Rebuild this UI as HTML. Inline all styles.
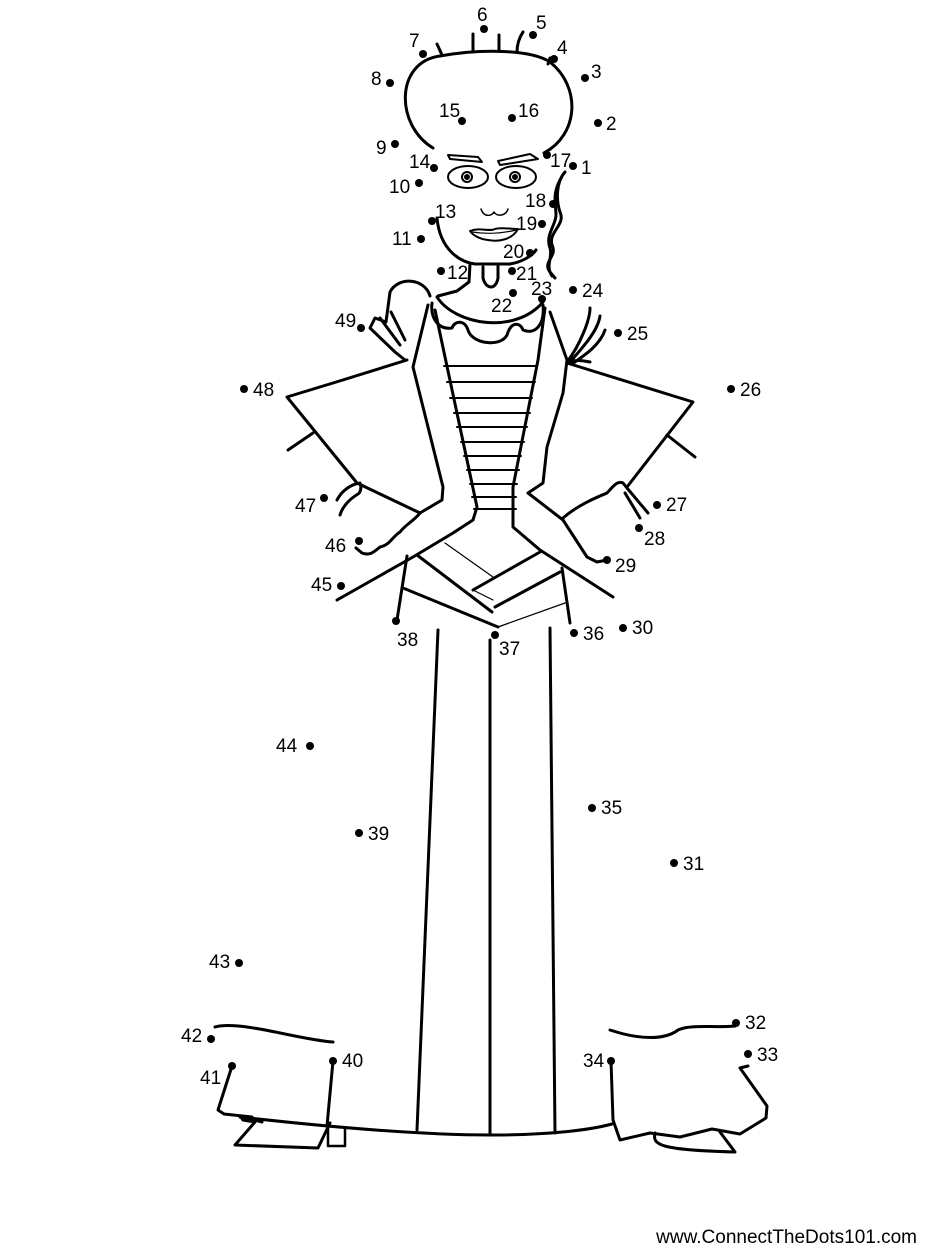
<!DOCTYPE html>
<html><head><meta charset="utf-8"><style>
html,body{margin:0;padding:0;background:#fff;width:927px;height:1250px;overflow:hidden}
svg{display:block}
text{font-family:"Liberation Sans",sans-serif;font-size:19px;fill:#000}
</style></head><body>
<svg width="927" height="1250" viewBox="0 0 927 1250" xmlns="http://www.w3.org/2000/svg">
<g fill="none" stroke="#000" stroke-width="3" stroke-linecap="round" stroke-linejoin="round">
<path d="M433,148 C395,125 395,62 440,56 C480,49 530,49 550,62 C582,88 578,135 544,153"/>
<path d="M437,44 L442,55 M473,34 L473,51 M499,35 L499,50 M523,32 C519,38 517,45 517,52 M550,58 L548,64"/>
<path d="M448,155 L478,157 L482,162 L450,159 Z" stroke-width="2"/>
<path d="M498,161 L530,154 L538,159 L500,165 Z" stroke-width="2"/>
<ellipse cx="468" cy="177" rx="20" ry="11" stroke-width="2"/>
<ellipse cx="516" cy="177" rx="20" ry="11" stroke-width="2"/>
<circle cx="467" cy="177" r="5" stroke-width="2"/><circle cx="515" cy="177" r="5" stroke-width="2"/>
<circle cx="467" cy="177" r="1.5" fill="#000"/><circle cx="515" cy="177" r="1.5" fill="#000"/>
<path d="M481,209 C484,218 492,216 494,212 C497,217 506,216 508,209" stroke-width="1.5"/>
<path d="M470,231 C480,227 490,232 495,229 C500,227 510,229 518,229 C512,240 498,242 488,240 C478,239 472,234 470,231 Z" stroke-width="2"/>
<path d="M472,232 C485,234 500,234 516,230" stroke-width="1.2"/>
<path d="M437,218 C440,250 460,262 475,264 L510,264 C522,262 532,256 536,250"/>
<path d="M470,264 L469,282 L457,291 L438,296"/>
<path d="M483,267 L483,278 C486,290 496,290 498,278 L498,266"/>
<path d="M565,172 C556,182 556,200 560,212 C566,225 548,232 552,245 C558,256 542,262 550,272 L555,278"/>
<path d="M560,180 C552,195 556,205 556,215 C556,225 545,235 550,248 C553,258 545,265 552,276"/>
<path d="M437,297 C455,325 515,335 543,302"/>
<path d="M432,303 C430,320 440,330 452,328 C455,320 465,320 468,330 C472,345 505,348 508,332 C512,322 520,322 523,330 C535,335 545,325 543,305"/>
<path d="M430,296 C425,278 398,276 390,292 L386,322 L375,318 L370,328 L395,352 L405,360"/>
<path d="M380,318 L400,345 M391,312 L405,340"/>
<path d="M567,362 C580,345 590,320 590,308 M570,362 C585,345 598,330 600,316 M572,364 C585,355 600,345 605,330 M568,362 C575,360 580,360 590,362"/>
<path d="M428,305 L413,367 L443,487 L442,500 L420,513"/>
<path d="M435,310 L477,507 L473,520 L453,533 L413,557 L337,600"/>
<path d="M545,308 L538,360 L513,487 L513,527 L540,550 L613,597"/>
<path d="M550,312 L567,360 L563,393 L547,447 L543,483 L528,493 L563,520 L587,557 L597,562 L607,560"/>
<path d="M407,360 L333,383 L287,397 L357,483 L420,513"/>
<path d="M288,450 L313,433"/>
<path d="M420,513 C415,520 405,525 400,532 C392,537 390,545 380,547 C374,552 370,556 362,553 L356,548"/>
<path d="M337,500 C342,490 352,484 360,483 C362,488 360,493 358,494 C348,500 342,508 340,515"/>
<path d="M567,363 L580,367 L693,402 L627,487"/>
<path d="M667,435 L695,457"/>
<path d="M563,518 C578,505 595,498 607,493 C612,488 617,480 623,483 L627,488 L648,513 M625,493 L640,518"/>
<g stroke-width="2">
<path d="M444,366 L537,366 M447,382 L535,382 M450,398 L532,398 M454,413 L530,413 M457,427 L527,427 M461,442 L524,442 M464,456 L521,456 M467,470 L519,470 M470,484 L517,484 M472,497 L516,497 M474,509 L516,509"/>
</g>
<path d="M407,556 L397,620"/>
<path d="M562,568 L570,623"/>
<path d="M417,555 L492,612"/>
<path d="M403,588 L498,627"/>
<path d="M540,552 L473,590"/>
<path d="M560,572 L495,607"/>
<path d="M445,543 L493,577 M473,590 L493,600 M498,627 L565,603" stroke-width="1.2"/>
<path d="M438,630 L417,1130"/>
<path d="M490,640 L490,1135"/>
<path d="M550,628 L555,1133"/>
<path d="M240,1117 C320,1126 420,1135 490,1135 C550,1135 590,1130 612,1124"/>
<path d="M215,1027 C240,1020 300,1040 333,1042"/>
<path d="M232,1066 L218,1110 L224,1114 L252,1117"/>
<path d="M262,1122 L240,1116 L243,1120 L255,1122 L235,1145 L318,1148 L330,1123"/>
<path d="M333,1061 L327,1126"/>
<path d="M328,1128 L328,1146 L345,1146 L345,1128" stroke-width="2.5"/>
<path d="M610,1030 C640,1040 665,1040 678,1030 C690,1024 715,1028 735,1026"/>
<path d="M611,1061 L613,1120 L620,1140 L650,1133 L680,1137 L712,1129 L740,1134 L766,1118 L767,1106 L740,1068 L748,1066"/>
<path d="M655,1133 C652,1145 660,1150 735,1152 L720,1132"/>
</g>
<g fill="#000">
<circle cx="573" cy="166" r="4"/><circle cx="598" cy="123" r="4"/><circle cx="585" cy="78" r="4"/><circle cx="554" cy="59" r="4"/><circle cx="533" cy="35" r="4"/><circle cx="484" cy="29" r="4"/><circle cx="423" cy="54" r="4"/><circle cx="390" cy="83" r="4"/><circle cx="395" cy="144" r="4"/><circle cx="419" cy="183" r="4"/><circle cx="421" cy="239" r="4"/><circle cx="441" cy="271" r="4"/><circle cx="432" cy="221" r="4"/><circle cx="434" cy="168" r="4"/><circle cx="462" cy="121" r="4"/><circle cx="512" cy="118" r="4"/><circle cx="547" cy="155" r="4"/><circle cx="553" cy="204" r="4"/><circle cx="542" cy="224" r="4"/><circle cx="530" cy="253" r="4"/><circle cx="512" cy="271" r="4"/><circle cx="513" cy="293" r="4"/><circle cx="542" cy="299" r="4"/><circle cx="573" cy="290" r="4"/><circle cx="618" cy="333" r="4"/><circle cx="731" cy="389" r="4"/><circle cx="657" cy="505" r="4"/><circle cx="639" cy="528" r="4"/><circle cx="607" cy="560" r="4"/><circle cx="623" cy="628" r="4"/><circle cx="674" cy="863" r="4"/><circle cx="736" cy="1023" r="4"/><circle cx="748" cy="1054" r="4"/><circle cx="611" cy="1061" r="4"/><circle cx="592" cy="808" r="4"/><circle cx="574" cy="633" r="4"/><circle cx="495" cy="635" r="4"/><circle cx="396" cy="621" r="4"/><circle cx="359" cy="833" r="4"/><circle cx="333" cy="1061" r="4"/><circle cx="232" cy="1066" r="4"/><circle cx="211" cy="1039" r="4"/><circle cx="239" cy="963" r="4"/><circle cx="310" cy="746" r="4"/><circle cx="341" cy="586" r="4"/><circle cx="359" cy="541" r="4"/><circle cx="324" cy="498" r="4"/><circle cx="244" cy="389" r="4"/><circle cx="361" cy="328" r="4"/>
</g>
<g>
<text x="581" y="174">1</text><text x="606" y="130">2</text><text x="591" y="78">3</text><text x="557" y="54">4</text><text x="536" y="29">5</text><text x="477" y="21">6</text><text x="409" y="47">7</text><text x="371" y="85">8</text><text x="376" y="154">9</text><text x="389" y="193">10</text><text x="392" y="245">11</text><text x="447" y="279">12</text><text x="435" y="218">13</text><text x="409" y="168">14</text><text x="439" y="117">15</text><text x="518" y="117">16</text><text x="550" y="167">17</text><text x="525" y="207">18</text><text x="516" y="230">19</text><text x="503" y="258">20</text><text x="516" y="280">21</text><text x="491" y="312">22</text><text x="531" y="295">23</text><text x="582" y="297">24</text><text x="627" y="340">25</text><text x="740" y="396">26</text><text x="666" y="511">27</text><text x="644" y="545">28</text><text x="615" y="572">29</text><text x="632" y="634">30</text><text x="683" y="870">31</text><text x="745" y="1029">32</text><text x="757" y="1061">33</text><text x="583" y="1067">34</text><text x="601" y="814">35</text><text x="583" y="640">36</text><text x="499" y="655">37</text><text x="397" y="646">38</text><text x="368" y="840">39</text><text x="342" y="1067">40</text><text x="200" y="1084">41</text><text x="181" y="1042">42</text><text x="209" y="968">43</text><text x="276" y="752">44</text><text x="311" y="591">45</text><text x="325" y="552">46</text><text x="295" y="512">47</text><text x="253" y="396">48</text><text x="335" y="327">49</text>
</g>
<text x="917" y="1243" text-anchor="end" style="font-size:19px">www.ConnectTheDots101.com</text>
</svg>
</body></html>
